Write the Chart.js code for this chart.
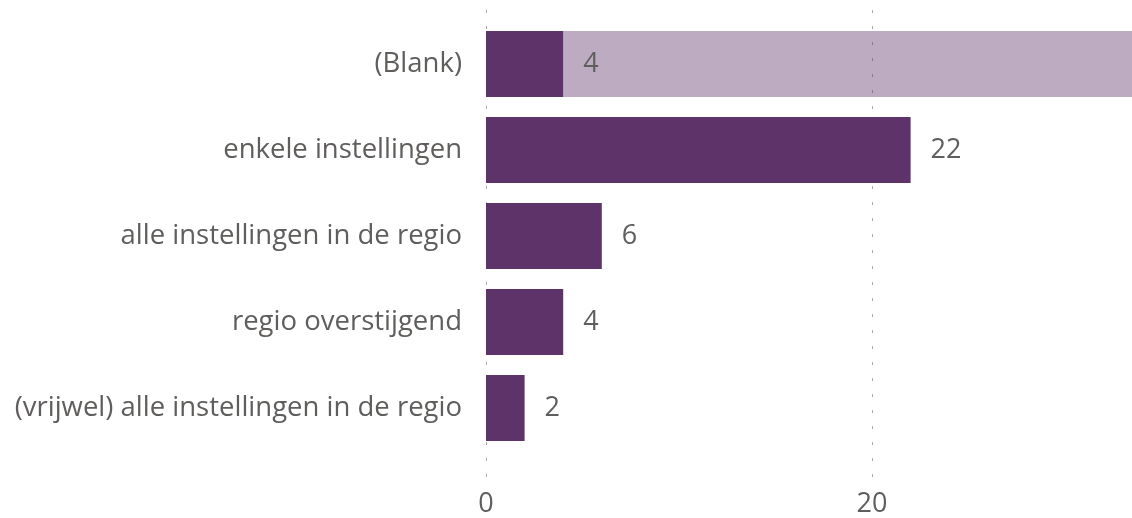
<!DOCTYPE html>
<html>
<head>
<meta charset="utf-8">
<script src="https://cdn.jsdelivr.net/npm/chart.js@4"></script>
<style>
  html, body { margin: 0; padding: 0; background: #fff; }
  #wrap { width: 1132px; height: 518px; }
</style>
</head>
<body>
<div id="wrap"><canvas id="chart-container"></canvas></div>
<script>
const categories = [
    "(Blank)",
    "enkele instellingen",
    "alle instellingen in de regio",
    "regio overstijgend",
    "(vrijwel) alle instellingen in de regio",
];
const counts = [4, 22, 6, 4, 2];
const selected = [true, false, false, false, false];
const xTicks = [0, 20];
const xMax = 33.47;

const fontFamily = "'Open Sans', 'Segoe UI', sans-serif";
const textColor = "#605E5C";

// light bar behind the selected row fills the rest of the axis
const highlight = counts.map((v, i) => (selected[i] ? xMax - v : 0));

const gridPlugin = {
    id: "dottedGrid",
    beforeDatasetsDraw(chart) {
        const ctx = chart.ctx;
        const x = chart.scales.x;
        ctx.save();
        ctx.strokeStyle = "#A8A8A8";
        ctx.lineWidth = 1;
        ctx.setLineDash([3, 13]);
        for (let t of xTicks) {
            const px = Math.round(x.getPixelForValue(t)) + 0.5;
            ctx.beginPath();
            ctx.moveTo(px, 10);
            ctx.lineTo(px, 478);
            ctx.stroke();
        }
        ctx.restore();
    },
};

const labelPlugin = {
    id: "valueLabels",
    afterDatasetsDraw(chart) {
        const ctx = chart.ctx;
        const meta = chart.getDatasetMeta(0);
        ctx.save();
        ctx.font = "27px " + fontFamily;
        ctx.fillStyle = textColor;
        ctx.textAlign = "left";
        ctx.textBaseline = "middle";
        meta.data.forEach((bar, i) => {
            ctx.fillText(String(counts[i]), bar.x + 20, bar.y);
        });
        ctx.restore();
    },
};

const ctx = document.getElementById("chart-container");

new Chart(ctx, {
    type: "bar",
    data: {
        labels: categories,
        datasets: [
            {
                label: "Aantal",
                data: counts,
                backgroundColor: "#5E3369",
                borderWidth: 0,
                barPercentage: 0.77,
                categoryPercentage: 1,
            },
            {
                label: "Selectie",
                data: highlight,
                backgroundColor: "rgba(94,51,105,0.41)",
                borderWidth: 0,
                barPercentage: 0.77,
                categoryPercentage: 1,
            },
        ],
    },
    options: {
        indexAxis: "y",
        responsive: true,
        maintainAspectRatio: false,
        animation: false,
        layout: { padding: { top: 21, bottom: 0, left: 0, right: 0 } },
        plugins: {
            legend: { display: false },
            tooltip: { enabled: false },
        },
        scales: {
            x: {
                stacked: true,
                min: 0,
                max: xMax,
                grid: { display: false, drawTicks: false },
                border: { display: false },
                afterBuildTicks: (scale) => {
                    scale.ticks = xTicks.map((v) => ({ value: v }));
                },
                afterFit: (scale) => {
                    scale.height = 67;
                    scale.paddingLeft = 0;
                    scale.paddingRight = 0;
                },
                ticks: {
                    padding: 37,
                    color: textColor,
                    font: { family: fontFamily, size: 27 },
                    maxRotation: 0,
                },
            },
            y: {
                stacked: true,
                grid: { display: false, drawTicks: false },
                border: { display: false },
                afterFit: (scale) => {
                    scale.width = 486;
                    scale.paddingTop = 0;
                    scale.paddingBottom = 0;
                },
                ticks: {
                    padding: 24,
                    color: textColor,
                    font: { family: fontFamily, size: 27.5 },
                },
            },
        },
    },
    plugins: [gridPlugin, labelPlugin],
});
</script>
</body>
</html>
